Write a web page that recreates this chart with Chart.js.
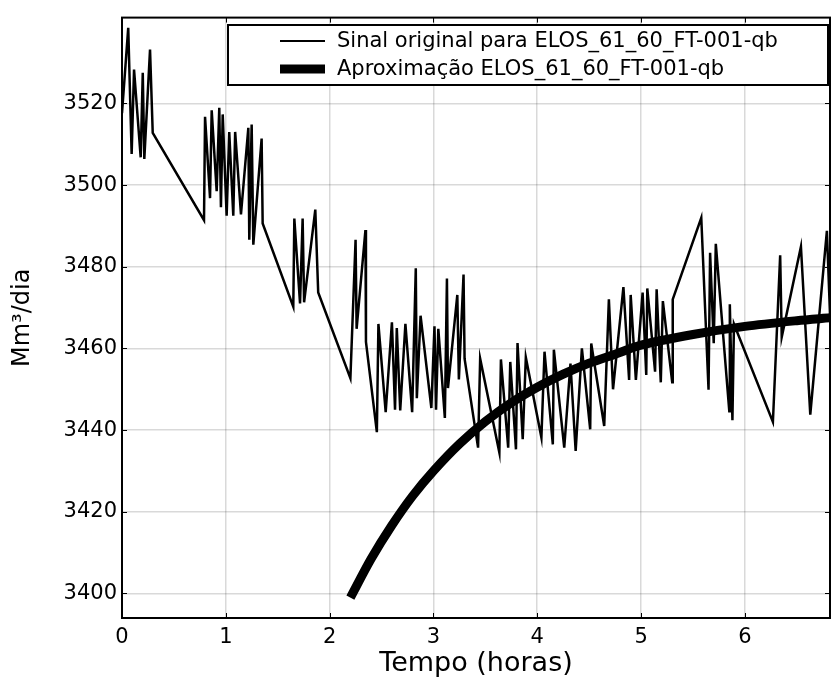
<!DOCTYPE html>
<html>
<head>
<meta charset="utf-8">
<script src="https://cdn.jsdelivr.net/npm/chart.js@4.4.1/dist/chart.umd.min.js"></script>
<style>
    html, body { margin: 0; padding: 0; background: #fff; }
    #wrap { width: 834px; height: 677px; }
</style>
</head>
<body>
<div id="wrap"><canvas id="chart"></canvas></div>
<script>
// original signal (time in hours, value in Mm3/dia)
const signalTempo = [
    0.0, 0.06, 0.093, 0.116, 0.18, 0.2, 0.215, 0.27, 0.296, 0.79,
    0.80, 0.848, 0.864, 0.912, 0.937, 0.953, 0.97, 1.008, 1.033, 1.072,
    1.09, 1.146, 1.217, 1.226, 1.249, 1.265, 1.345, 1.355, 1.65, 1.66,
    1.715, 1.74, 1.754, 1.862, 1.89, 2.20, 2.25, 2.26, 2.345, 2.35,
    2.455, 2.47, 2.54, 2.60, 2.63, 2.647, 2.68, 2.73, 2.795, 2.83,
    2.84, 2.876, 2.98, 3.01, 3.025, 3.047, 3.11, 3.13, 3.14, 3.23,
    3.245, 3.29, 3.30, 3.43, 3.45, 3.635, 3.65, 3.72, 3.74, 3.795,
    3.81, 3.86, 3.89, 4.04, 4.07, 4.15, 4.16, 4.26, 4.32, 4.37,
    4.43, 4.51, 4.52, 4.645, 4.69, 4.73, 4.83, 4.885, 4.90, 4.95,
    5.015, 5.05, 5.06, 5.135, 5.15, 5.19, 5.21, 5.30, 5.305, 5.58,
    5.65, 5.665, 5.70, 5.72, 5.85, 5.855, 5.88, 5.895, 6.27, 6.34,
    6.355, 6.54, 6.63, 6.79, 6.82
];
const signalValues = [
    3517.6, 3538.5, 3507.6, 3528.3, 3506.8, 3527.5, 3506.4, 3533.2, 3512.8, 3491.4,
    3516.7, 3496.8, 3518.3, 3498.5, 3518.9, 3494.6, 3517.3, 3492.5, 3513, 3492.5,
    3513, 3492.8, 3514, 3486.6, 3514.8, 3485.4, 3511.4, 3490.6, 3470.2, 3491.8,
    3471, 3491.8, 3471.3, 3494, 3473.7, 3452.7, 3486.6, 3464.8, 3489, 3461.6,
    3439.5, 3466, 3444.4, 3466.4, 3445, 3465, 3444.8, 3466, 3444.4, 3479.6,
    3447.8, 3468, 3445.4, 3465.4, 3445, 3464.8, 3443, 3477.1, 3450.3, 3473.1,
    3452.4, 3478.1, 3457.5, 3435.7, 3457.5, 3434.5, 3457.3, 3435.7, 3456.7, 3435.3,
    3461.3, 3437.8, 3457.8, 3438.2, 3459.2, 3436.5, 3459.7, 3435.7, 3456.3, 3434.9,
    3460, 3440.2, 3461.2, 3441, 3472, 3450, 3475, 3452.3, 3473.1, 3452.3,
    3473.7, 3453.5, 3474.7, 3454.3, 3474.5, 3451.7, 3471.6, 3451.7, 3472, 3492,
    3449.9, 3483.4, 3461.3, 3485.6, 3444.6, 3470.8, 3442.4, 3466, 3442, 3482.8,
    3462.8, 3484.9, 3443.8, 3488.8, 3468.4
];

// fitted curve
const approxTempo = [2.2, 2.4, 2.6, 2.8, 3.0, 3.25, 3.5, 3.75, 4.0, 4.25, 4.5, 4.75, 5.0, 5.5, 6.0, 6.5, 6.82];
const approxValues = [3399, 3408.5, 3416.7, 3423.9, 3430, 3436.6, 3442.1, 3446.7, 3450.5, 3453.7, 3456.4, 3458.6, 3460.8, 3463.4, 3465.4, 3466.8, 3467.5];

const xTicks = [0, 1, 2, 3, 4, 5, 6];
const yTicks = [3400, 3420, 3440, 3460, 3480, 3500, 3520];

const labelSignal = 'Sinal original para ELOS_61_60_FT-001-qb';
const labelApprox = 'Aproximação ELOS_61_60_FT-001-qb';

const FONT = '"DejaVu Sans", Verdana, sans-serif';

// frame, inward tick marks and the legend box inside the plot
const framePlugin = {
    id: 'frame',
    afterDraw(chart) {
        const ctx = chart.ctx;
        const a = chart.chartArea;
        const xs = chart.scales.x, ys = chart.scales.y;
        ctx.save();
        ctx.strokeStyle = '#000';

        // small ticks pointing into the plot, like matplotlib classic
        ctx.lineWidth = 1;
        ctx.beginPath();
        xTicks.forEach(v => {
            const px = Math.round(xs.getPixelForValue(v)) + 0.5;
            ctx.moveTo(px, a.bottom); ctx.lineTo(px, a.bottom - 5);
            ctx.moveTo(px, a.top); ctx.lineTo(px, a.top + 5);
        });
        yTicks.forEach(v => {
            const py = Math.round(ys.getPixelForValue(v)) + 0.5;
            ctx.moveTo(a.left, py); ctx.lineTo(a.left + 5, py);
            ctx.moveTo(a.right, py); ctx.lineTo(a.right - 5, py);
        });
        ctx.stroke();

        ctx.lineWidth = 2;
        ctx.strokeRect(a.left, a.top, a.right - a.left, a.bottom - a.top);

        // legend
        const bx = 228, by = 25, bw = a.right - bx - 2, bh = 60;
        ctx.fillStyle = '#fff';
        ctx.fillRect(bx, by, bw, bh);
        ctx.strokeRect(bx, by, bw, bh);

        ctx.font = '21px ' + FONT;
        ctx.textBaseline = 'middle';
        ctx.textAlign = 'left';
        ctx.fillStyle = '#000';
        const rows = [
            { label: chart.data.datasets[1].label, width: 2, y: by + 16 },
            { label: chart.data.datasets[0].label, width: 9, y: by + 44 }
        ];
        rows.forEach(r => {
            ctx.beginPath();
            ctx.lineWidth = r.width;
            ctx.lineCap = 'butt';
            ctx.moveTo(bx + 52, r.y);
            ctx.lineTo(bx + 97, r.y);
            ctx.stroke();
            ctx.fillText(r.label, bx + 109, r.y + 1);
        });
        ctx.restore();
    }
};

const ctx = document.getElementById('chart').getContext('2d');
new Chart(ctx, {
    type: 'line',
    data: {
        datasets: [{
            label: labelApprox,
            data: approxTempo.map((t, i) => ({ x: t, y: approxValues[i] })),
            borderColor: '#000',
            borderWidth: 9,
            borderCapStyle: 'butt',
            pointRadius: 0,
            fill: false,
            tension: 0.3,
            order: 0
        }, {
            label: labelSignal,
            data: signalTempo.map((t, i) => ({ x: t, y: signalValues[i] })),
            borderColor: '#000',
            borderWidth: 2.5,
            pointRadius: 0,
            fill: false,
            tension: 0,
            order: 1
        }]
    },
    options: {
        responsive: true,
        maintainAspectRatio: false,
        animation: false,
        layout: { padding: { top: 12, right: 4, left: 0, bottom: 0 } },
        plugins: {
            legend: { display: false },
            tooltip: { enabled: false }
        },
        scales: {
            x: {
                type: 'linear',
                min: 0,
                max: 6.82,
                afterBuildTicks: scale => { scale.ticks = xTicks.map(v => ({ value: v })); },
                afterFit: scale => { scale.height = 59; },
                grid: { color: 'rgba(0,0,0,0.15)', lineWidth: 1.5, drawTicks: false },
                border: { display: false },
                ticks: {
                    color: '#000',
                    padding: 7,
                    font: { family: FONT, size: 21 },
                    callback: v => String(v)
                },
                title: {
                    display: true,
                    text: 'Tempo (horas)',
                    color: '#000',
                    padding: { top: 0, bottom: -3 },
                    font: { family: FONT, size: 27 }
                }
            },
            y: {
                min: 3394,
                max: 3541,
                afterBuildTicks: scale => { scale.ticks = yTicks.map(v => ({ value: v })); },
                afterFit: scale => { scale.width = 122; },
                grid: { color: 'rgba(0,0,0,0.15)', lineWidth: 1.5, drawTicks: false },
                border: { display: false },
                ticks: {
                    color: '#000',
                    padding: 5,
                    font: { family: FONT, size: 21 },
                    callback: v => String(v)
                },
                title: {
                    display: true,
                    text: 'Mm³/dia',
                    color: '#000',
                    padding: { top: 8, bottom: 0 },
                    font: { family: FONT, size: 24 }
                }
            }
        }
    },
    plugins: [framePlugin]
});
</script>
</body>
</html>
